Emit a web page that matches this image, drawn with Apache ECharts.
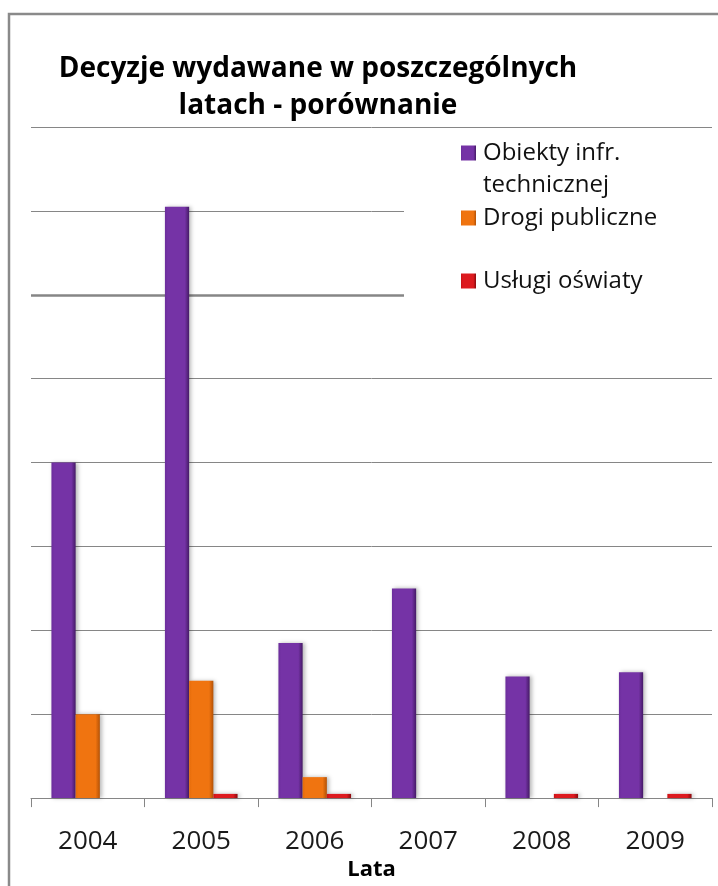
<!DOCTYPE html>
<html>
<head>
<meta charset="utf-8">
<script src="https://cdn.jsdelivr.net/npm/echarts@6/dist/echarts.min.js"></script>
<style>
html,body{margin:0;padding:0;background:#fff;}
#c{width:718px;height:886px;}
</style>
</head>
<body>
<div id="c"></div>
<script>
var categories = ['2004', '2005', '2006', '2007', '2008', '2009'];
var seriesNames = ['Obiekty infr.\ntechnicznej', 'Drogi publiczne', 'Usługi oświaty'];
var obiekty = [80, 141, 37, 50, 29, 30];
var drogi = [20, 28, 5, null, null, null];
var uslugi = [null, 1, 1, null, 1, 1];
var titleText = 'Decyzje wydawane w poszczególnych\nlatach - porównanie';
var axisName = 'Lata';

function barGrad(light, main, dark) {
  return new echarts.graphic.LinearGradient(0, 0, 1, 0, [
    {offset: 0, color: light},
    {offset: 0.12, color: main},
    {offset: 0.82, color: main},
    {offset: 1, color: dark}
  ]);
}
var FONT = '"Open Sans", Lato, sans-serif';
var shadow = {shadowBlur: 4, shadowColor: 'rgba(0,0,0,0.28)', shadowOffsetX: 2, shadowOffsetY: 0};
var legendText = {fontFamily: FONT, fontSize: 24, color: '#111', lineHeight: 32, padding: [0, 0, 0, 2]};

var chart = echarts.init(document.getElementById('c'), null, {renderer: 'canvas'});
chart.setOption({
  backgroundColor: '#ffffff',
  animation: false,
  title: {
    text: titleText,
    left: 318,
    top: 51,
    padding: 0,
    textAlign: 'center',
    textStyle: {fontFamily: FONT, fontSize: 28, fontWeight: 'bold', color: '#000', lineHeight: 37}
  },
  legend: [
    {
      data: [{name: seriesNames[0], icon: 'path://M0,0H15V15H0Z M0,47L0.01,47'}],
      orient: 'vertical', left: 461, top: 137, padding: 0, z: 4,
      itemWidth: 15, itemHeight: 47, itemGap: 0, selectedMode: false,
      textStyle: legendText
    },
    {
      data: [{name: seriesNames[1], icon: 'rect'}],
      orient: 'vertical', left: 461, top: 202, padding: 0, z: 4,
      itemWidth: 15, itemHeight: 15, selectedMode: false,
      textStyle: legendText
    },
    {
      data: [{name: seriesNames[2], icon: 'rect'}],
      orient: 'vertical', left: 461, top: 265, padding: 0, z: 4,
      itemWidth: 15, itemHeight: 15, selectedMode: false,
      textStyle: legendText
    }
  ],
  graphic: [
    {
      type: 'rect', z: 3, silent: true,
      shape: {x: 404, y: 134, width: 320, height: 168},
      style: {fill: '#ffffff'}
    },
    {
      type: 'rect', z: 10, silent: true,
      shape: {x: 9, y: 14, width: 740, height: 900},
      style: {fill: 'none', stroke: '#8a8a8a', lineWidth: 2.5}
    }
  ],
  grid: {left: 31, right: 6, top: 127, bottom: 82, containLabel: false},
  xAxis: {
    type: 'category',
    data: categories,
    name: axisName,
    nameLocation: 'middle',
    nameGap: 60,
    nameTextStyle: {fontFamily: FONT, fontSize: 22, fontWeight: 'bold', color: '#000'},
    axisLine: {lineStyle: {color: '#868686', width: 1}},
    axisTick: {show: true, length: 9, lineStyle: {color: '#868686'}},
    axisLabel: {fontFamily: FONT, fontSize: 26, color: '#1a1a1a', margin: 30}
  },
  yAxis: {
    type: 'value',
    min: 0, max: 160, interval: 20,
    axisLine: {show: false},
    axisTick: {show: false},
    axisLabel: {show: false},
    splitLine: {lineStyle: {color: '#868686', width: 1}}
  },
  series: [
    {
      name: seriesNames[0], type: 'bar', data: obiekty,
      barGap: '0%', barCategoryGap: '36%',
      itemStyle: Object.assign({color: barGrad('#6c2e9c', '#7533a6', '#451a66')}, shadow),
      markLine: {
        silent: true, symbol: 'none', label: {show: false}, z: 1,
        lineStyle: {color: '#868686', width: 2.6, type: 'solid'},
        data: [{yAxis: 120}]
      }
    },
    {
      name: seriesNames[1], type: 'bar', data: drogi,
      barGap: '0%', barCategoryGap: '36%',
      itemStyle: Object.assign({color: barGrad('#e46c0a', '#f07410', '#b45206')}, shadow)
    },
    {
      name: seriesNames[2], type: 'bar', data: uslugi,
      barGap: '0%', barCategoryGap: '36%',
      itemStyle: Object.assign({color: barGrad('#c81216', '#dd1a1f', '#8a0a0d')}, shadow)
    }
  ]
});
</script>
</body>
</html>
